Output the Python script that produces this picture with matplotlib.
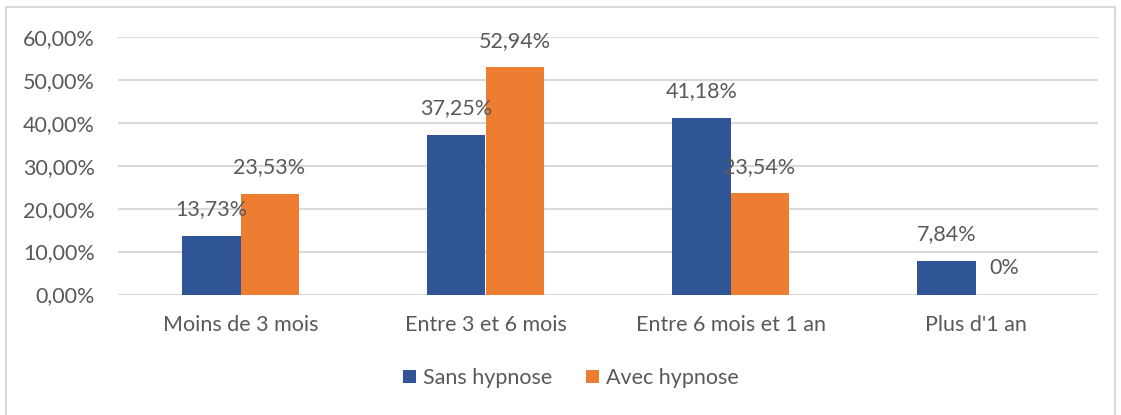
import numpy as np
import matplotlib
matplotlib.use("Agg")
from matplotlib import pyplot as plt
from matplotlib.patches import Rectangle

# ----------
# Data

categories = ["Moins de 3 mois", "Entre 3 et 6 mois", "Entre 6 mois et 1 an", "Plus d'1 an"]
sans_hypnose = [13.73, 37.25, 41.18, 7.84]
avec_hypnose = [23.53, 52.94, 23.54, 0.0]
series_names = ["Sans hypnose", "Avec hypnose"]
y_ticks = [0, 10, 20, 30, 40, 50, 60]

blue = "#2F5597"
orange = "#ED7D31"
text_col = "#595959"
grid_col = "#D9D9D9"
fs = 15.5

plt.rcParams["font.family"] = ["Lato", "DejaVu Sans"]

def fmt(v):
    # excel style: comma decimals, plain 0%
    if v == 0:
        return "0%"
    return ("%.2f" % v).replace(".", ",") + "%"

# ----------
# Figure

W, H = 1121, 415
fig = plt.figure(figsize=(W / 100, H / 100), dpi=100)
ax = fig.add_axes([118 / W, 1 - 294.5 / H, (1098 - 118) / W, (294.5 - 37) / H])

x = np.arange(len(categories))
bw = 0.237
b1 = ax.bar(x - bw / 2, sans_hypnose, bw, color=blue, label=series_names[0], zorder=3)
b2 = ax.bar(x + bw / 2, avec_hypnose, bw, color=orange, label=series_names[1], zorder=3)

for bars, vals in ((b1, sans_hypnose), (b2, avec_hypnose)):
    for r, v in zip(bars, vals):
        ax.annotate(fmt(v), (r.get_x() + r.get_width() / 2, v),
                    xytext=(0, 19), textcoords="offset points",
                    ha="center", va="center", fontsize=fs, color=text_col, zorder=4)

ax.set_xlim(-0.5, len(categories) - 0.5)
ax.set_ylim(0, 60)
ax.set_yticks(y_ticks)
ax.set_yticklabels([("%.2f" % t).replace(".", ",") + "%" for t in y_ticks])
ax.set_xticks(x)
ax.set_xticklabels(categories)
ax.tick_params(axis="both", length=0, labelsize=fs, labelcolor=text_col)
ax.tick_params(axis="y", pad=16.5)
ax.tick_params(axis="x", pad=15)
ax.grid(axis="y", color=grid_col, linewidth=1.5, zorder=0)
for s in ax.spines.values():
    s.set_visible(False)

fig.legend(loc="center", bbox_to_anchor=(571 / W, 1 - 378 / H), ncol=2, frameon=False,
           fontsize=fs, labelcolor=text_col, handlelength=0.6, handleheight=0.6,
           handletextpad=0.3, columnspacing=1.6)

# chart border
fig.patches.append(Rectangle((6 / W, -0.05), (1115 - 6) / W, 1.05 - 7 / H,
                             transform=fig.transFigure, fill=False,
                             edgecolor=grid_col, linewidth=1.5))

fig.savefig("out.png", dpi=100)
